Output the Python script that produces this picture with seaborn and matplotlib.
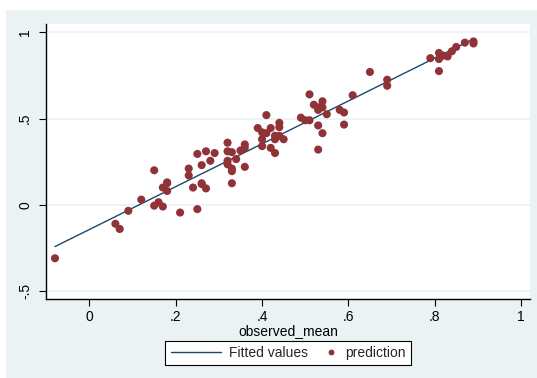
import matplotlib
matplotlib.use("Agg")
import matplotlib.pyplot as plt
import seaborn as sns
import pandas as pd
from matplotlib.patches import Rectangle
from matplotlib.lines import Line2D
from matplotlib.legend_handler import HandlerLine2D

observed_mean = [
    -0.08, 0.06, 0.07, 0.09, 0.12, 0.15, 0.16, 0.17, 0.17, 0.18, 0.18, 0.21,
    0.24, 0.25, 0.26, 0.27, 0.33, 0.15, 0.18, 0.23, 0.23, 0.25, 0.26, 0.26,
    0.27, 0.28, 0.29, 0.32, 0.32, 0.32, 0.32, 0.33, 0.33, 0.33, 0.34, 0.35,
    0.36, 0.36, 0.36, 0.39, 0.40, 0.40, 0.40, 0.41, 0.41, 0.42, 0.42, 0.43,
    0.43, 0.44, 0.44, 0.43, 0.44, 0.45, 0.49, 0.50, 0.51, 0.51, 0.52, 0.53,
    0.53, 0.53, 0.54, 0.54, 0.54, 0.55, 0.53, 0.58, 0.59, 0.59, 0.61, 0.65,
    0.69, 0.69, 0.79, 0.81, 0.81, 0.81, 0.82, 0.83, 0.84, 0.85, 0.87, 0.89,
    0.89,
]
prediction = [
    -0.31, -0.11, -0.14, -0.035, 0.03, -0.005, 0.015, -0.01, 0.10, 0.125, 0.08, -0.045,
    0.10, -0.025, 0.12, 0.095, 0.125, 0.20, 0.13, 0.21, 0.17, 0.295, 0.23, 0.125,
    0.31, 0.255, 0.30, 0.36, 0.31, 0.255, 0.235, 0.305, 0.21, 0.195, 0.265, 0.315,
    0.35, 0.33, 0.22, 0.445, 0.42, 0.38, 0.34, 0.52, 0.415, 0.445, 0.33, 0.38,
    0.30, 0.475, 0.45, 0.40, 0.40, 0.38, 0.505, 0.49, 0.64, 0.49, 0.58, 0.565,
    0.46, 0.32, 0.60, 0.565, 0.415, 0.525, 0.55, 0.55, 0.535, 0.465, 0.635, 0.77,
    0.725, 0.69, 0.85, 0.88, 0.845, 0.775, 0.865, 0.86, 0.89, 0.915, 0.94, 0.947,
    0.935,
]
x_ticks = [0, 0.2, 0.4, 0.6, 0.8, 1]
x_tick_labels = ["0", ".2", ".4", ".6", ".8", "1"]
y_ticks = [-0.5, 0, 0.5, 1]
y_tick_labels = ["-.5", "0", ".5", "1"]

df = pd.DataFrame({"observed_mean": observed_mean, "prediction": prediction})

sns.set_theme(style="white")
plt.rcParams["font.family"] = ["Liberation Sans", "DejaVu Sans"]

BG = "#EAF2F3"
LINE_C = "#1A476F"
PT_C = "#903339"

fig = plt.figure(figsize=(5.37, 3.78), dpi=100, facecolor="white")
fig.patches.append(Rectangle((6 / 537, 0), 1 - 6 / 537, 1 - 10 / 378,
                             transform=fig.transFigure, facecolor=BG,
                             edgecolor="none", zorder=-10))
ax = fig.add_axes([46 / 537, 79 / 378, 484 / 537, 275 / 378])
ax.set_facecolor("white")

for yt in y_ticks:
    ax.axhline(yt, color=BG, lw=1.2, zorder=0)

sns.regplot(data=df, x="observed_mean", y="prediction", scatter=False, ci=None,
            ax=ax, color=LINE_C, line_kws={"lw": 1.0})
sns.scatterplot(data=df, x="observed_mean", y="prediction", ax=ax,
                color=PT_C, s=34, edgecolor="none", zorder=3, legend=False)

ax.set_xlim(-0.1008, 1.021)
ax.set_ylim(-0.546, 1.048)
ax.set_xticks(x_ticks)
ax.set_xticklabels(x_tick_labels)
ax.set_yticks(y_ticks)
ax.set_yticklabels(y_tick_labels, rotation=90, va="center")
ax.tick_params(axis="both", direction="out", length=5, width=0.8, color="black",
               labelsize=10, labelcolor="black", left=True, bottom=True)
ax.tick_params(axis="y", pad=5)
ax.tick_params(axis="x", pad=3)
for s in ["top", "right"]:
    ax.spines[s].set_visible(False)
for s in ["left", "bottom"]:
    ax.spines[s].set_color("black")
    ax.spines[s].set_linewidth(1.0)
ax.set_xlabel("observed_mean", fontsize=10, labelpad=0, color="black")
ax.set_ylabel("")


class RightMarkerHandler(HandlerLine2D):
    def get_xdata(self, legend, xdescent, ydescent, width, height, fontsize):
        xdata = [-xdescent + width - 4, -xdescent + width - 4]
        return xdata, [-xdescent + width - 4]


line_h = Line2D([], [], color=LINE_C, lw=1.0)
pt_h = Line2D([], [], color=PT_C, marker="o", linestyle="none", markersize=4.2,
              markeredgewidth=0)
leg = fig.legend([line_h, pt_h], ["Fitted values", "prediction"], loc="center",
                 bbox_to_anchor=(288 / 537, 1 - 353 / 378),
                 ncol=2, frameon=True, fancybox=False, fontsize=10,
                 handlelength=3.6, columnspacing=-1.55, borderpad=0.38,
                 handletextpad=0.6, borderaxespad=0,
                 handler_map={pt_h: RightMarkerHandler()})
leg.get_frame().set_edgecolor("black")
leg.get_frame().set_linewidth(0.8)
leg.get_frame().set_facecolor("white")
leg.get_frame().set_alpha(1)

fig.savefig("out.png", dpi=100, facecolor=fig.get_facecolor())
